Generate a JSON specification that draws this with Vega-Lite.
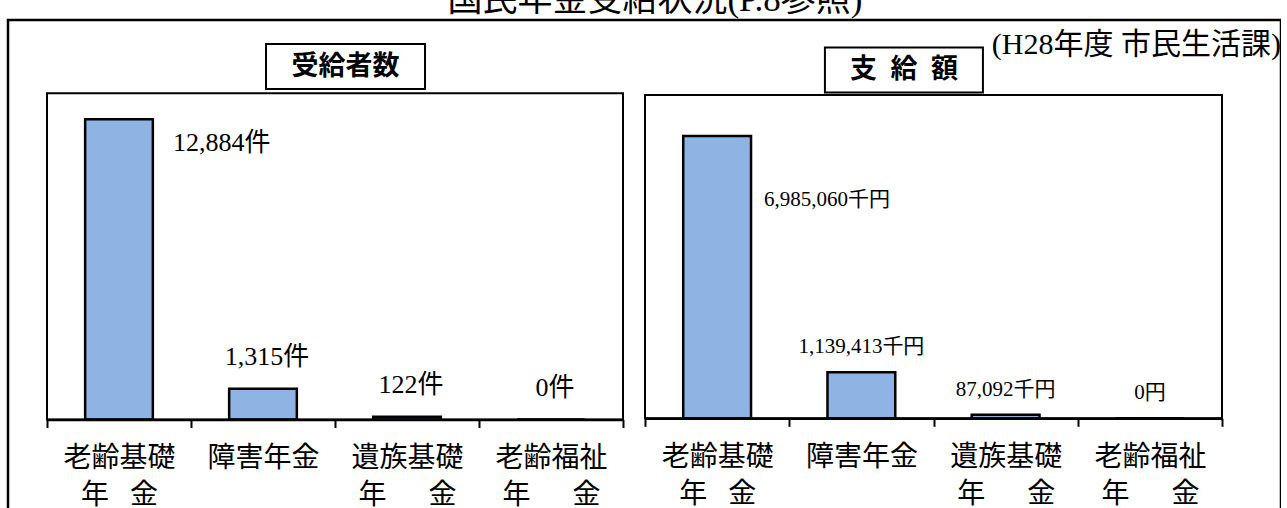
{
  "$schema": "https://vega.github.io/schema/vega-lite/v6.json",
  "autosize": {"type": "none"},
  "padding": {"left": 8, "top": 20, "right": 0, "bottom": 0},
  "width": 1273,
  "height": 520,
  "background": "white",
  "config": {
    "view": {"stroke": "black", "strokeWidth": 2.5},
    "font": "Liberation Serif, Noto Sans CJK JP"
  },
  "datasets": {
    "recipients": [
      {"cat": "老齢基礎年金", "value": 12884, "label": "12,884件"},
      {"cat": "障害年金", "value": 1315, "label": "1,315件"},
      {"cat": "遺族基礎年金", "value": 122, "label": "122件"},
      {"cat": "老齢福祉年金", "value": 0, "label": "0件"}
    ],
    "payments": [
      {"cat": "老齢基礎年金", "value": 6985060, "label": "6,985,060千円"},
      {"cat": "障害年金", "value": 1139413, "label": "1,139,413千円"},
      {"cat": "遺族基礎年金", "value": 87092, "label": "87,092千円"},
      {"cat": "老齢福祉年金", "value": 0, "label": "0円"}
    ]
  },
  "layer": [
    {
      "data": {"name": "recipients"},
      "layer": [
        {
          "mark": {"type": "bar", "width": {"band": 0.47}, "fill": "#8DB4E3", "stroke": "black", "strokeWidth": 2.5},
          "encoding": {
            "x": {
              "field": "cat", "type": "nominal", "sort": null,
              "scale": {"domain": ["老齢基礎年金", "障害年金", "遺族基礎年金", "老齢福祉年金"], "range": [39, 615], "padding": 0},
              "axis": {
                "orient": "bottom", "offset": -120.5, "title": null,
                "domainColor": "black", "domainWidth": 2.5,
                "tickColor": "black", "tickWidth": 2, "tickSize": 8, "tickBand": "extent",
                "labelAngle": 0, "labelFontSize": 28, "labelFont": "Liberation Serif, Noto Sans CJK JP",
                "labelColor": "black", "labelLineHeight": 37, "labelPadding": 17,
                "labelBaseline": "top", "labelLimit": 0, "labelOverlap": false,
                "labelExpr": "datum.value == '老齢基礎年金' ? ['老齢基礎', '年\u2002 金'] : datum.value == '障害年金' ? '障害年金' : datum.value == '遺族基礎年金' ? ['遺族基礎', '年　\u2002金'] : datum.value == '老齢福祉年金' ? ['老齢福祉', '年　\u2002金'] : ''"
              }
            },
            "y": {
              "field": "value", "type": "quantitative",
              "scale": {"domain": [0, 14000], "range": [399.5, 73.3], "nice": false, "zero": true},
              "axis": null
            }
          }
        },
        {
          "transform": [{"filter": "datum.cat == '老齢基礎年金'"}],
          "mark": {"type": "rect", "fill": "transparent", "stroke": "black", "strokeWidth": 2},
          "encoding": {
            "x": {"datum": "老齢基礎年金", "type": "nominal", "bandPosition": 0},
            "x2": {"datum": "老齢福祉年金", "bandPosition": 1},
            "y": {"datum": 0, "type": "quantitative"},
            "y2": {"datum": 14000}
          }
        },
        {
          "transform": [{"filter": "datum.cat == '老齢基礎年金'"}],
          "mark": {"type": "text", "align": "left", "baseline": "middle", "dy": 23.4, "fontSize": 26, "font": "Liberation Serif, Noto Sans CJK JP", "color": "black"},
          "encoding": {
            "x": {"field": "cat", "type": "nominal", "bandPosition": 0.875},
            "y": {"field": "value", "type": "quantitative"},
            "text": {"field": "label"}
          }
        },
        {
          "transform": [{"filter": "datum.cat != '老齢基礎年金'"}],
          "mark": {"type": "text", "align": "center", "baseline": "middle", "dx": 4, "dy": -32, "fontSize": 26, "font": "Liberation Serif, Noto Sans CJK JP", "color": "black"},
          "encoding": {
            "x": {"field": "cat", "type": "nominal", "bandPosition": 0.5},
            "y": {"field": "value", "type": "quantitative"},
            "text": {"field": "label"}
          }
        },
        {
          "transform": [{"filter": "datum.cat == '老齢基礎年金'"}],
          "mark": {"type": "point", "shape": "M-1,-0.283H1V0.283H-1Z", "size": 25281, "filled": true, "fill": "white", "stroke": "black", "strokeWidth": 2, "opacity": 1},
          "encoding": {
            "x": {"datum": "遺族基礎年金", "type": "nominal", "bandPosition": 0.073},
            "y": {"datum": 15150, "type": "quantitative"}
          }
        },
        {
          "transform": [{"filter": "datum.cat == '老齢基礎年金'"}],
          "mark": {"type": "text", "align": "center", "baseline": "middle", "fontSize": 27, "fontWeight": "bold", "font": "Noto Sans CJK JP", "color": "black"},
          "encoding": {
            "x": {"datum": "遺族基礎年金", "type": "nominal", "bandPosition": 0.073},
            "y": {"datum": 15150, "type": "quantitative"},
            "text": {"value": "受給者数"}
          }
        }
      ]
    },
    {
      "data": {"name": "payments"},
      "layer": [
        {
          "mark": {"type": "bar", "width": {"band": 0.47}, "fill": "#8DB4E3", "stroke": "black", "strokeWidth": 2.5},
          "encoding": {
            "x": {
              "field": "cat", "type": "nominal", "sort": null,
              "scale": {"domain": ["老齢基礎年金", "障害年金", "遺族基礎年金", "老齢福祉年金"], "range": [637, 1214], "padding": 0},
              "axis": {
                "orient": "bottom", "offset": -121.7, "title": null,
                "domainColor": "black", "domainWidth": 2.5,
                "tickColor": "black", "tickWidth": 2, "tickSize": 8, "tickBand": "extent",
                "labelAngle": 0, "labelFontSize": 28, "labelFont": "Liberation Serif, Noto Sans CJK JP",
                "labelColor": "black", "labelLineHeight": 37, "labelPadding": 17,
                "labelBaseline": "top", "labelLimit": 0, "labelOverlap": false,
                "labelExpr": "datum.value == '老齢基礎年金' ? ['老齢基礎', '年\u2002 金'] : datum.value == '障害年金' ? '障害年金' : datum.value == '遺族基礎年金' ? ['遺族基礎', '年　\u2002金'] : datum.value == '老齢福祉年金' ? ['老齢福祉', '年　\u2002金'] : ''"
              }
            },
            "y": {
              "field": "value", "type": "quantitative",
              "scale": {"domain": [0, 8000000], "range": [398.3, 75], "nice": false, "zero": true},
              "axis": null
            }
          }
        },
        {
          "transform": [{"filter": "datum.cat == '老齢基礎年金'"}],
          "mark": {"type": "rect", "fill": "transparent", "stroke": "black", "strokeWidth": 2},
          "encoding": {
            "x": {"datum": "老齢基礎年金", "type": "nominal", "bandPosition": 0},
            "x2": {"datum": "老齢福祉年金", "bandPosition": 1},
            "y": {"datum": 0, "type": "quantitative"},
            "y2": {"datum": 8000000}
          }
        },
        {
          "transform": [{"filter": "datum.cat == '老齢基礎年金'"}],
          "mark": {"type": "text", "align": "left", "baseline": "middle", "dy": 64.4, "fontSize": 21, "font": "Liberation Serif, Noto Sans CJK JP", "color": "black"},
          "encoding": {
            "x": {"field": "cat", "type": "nominal", "bandPosition": 0.825},
            "y": {"field": "value", "type": "quantitative"},
            "text": {"field": "label"}
          }
        },
        {
          "transform": [{"filter": "datum.cat != '老齢基礎年金'"}],
          "mark": {"type": "text", "align": "center", "baseline": "middle", "dy": -25, "fontSize": 21, "font": "Liberation Serif, Noto Sans CJK JP", "color": "black"},
          "encoding": {
            "x": {"field": "cat", "type": "nominal", "bandPosition": 0.5},
            "y": {"field": "value", "type": "quantitative"},
            "text": {"field": "label"}
          }
        },
        {
          "transform": [{"filter": "datum.cat == '老齢基礎年金'"}],
          "mark": {"type": "point", "shape": "M-1,-0.285H1V0.285H-1Z", "size": 24964, "filled": true, "fill": "white", "stroke": "black", "strokeWidth": 2, "opacity": 1},
          "encoding": {
            "x": {"datum": "障害年金", "type": "nominal", "bandPosition": 0.795},
            "y": {"datum": 8618000, "type": "quantitative"}
          }
        },
        {
          "transform": [{"filter": "datum.cat == '老齢基礎年金'"}],
          "mark": {"type": "text", "align": "center", "baseline": "middle", "fontSize": 27, "fontWeight": "bold", "font": "Noto Sans CJK JP", "color": "black"},
          "encoding": {
            "x": {"datum": "障害年金", "type": "nominal", "bandPosition": 0.795},
            "y": {"datum": 8618000, "type": "quantitative"},
            "text": {"value": "支\u2002給\u2002額"}
          }
        },
        {
          "transform": [{"filter": "datum.cat == '老齢基礎年金'"}],
          "mark": {"type": "text", "align": "right", "baseline": "middle", "fontSize": 30, "font": "Liberation Serif, Noto Sans CJK JP", "color": "black"},
          "encoding": {
            "x": {"datum": "老齢福祉年金", "type": "nominal", "bandPosition": 1.409},
            "y": {"datum": 9237000, "type": "quantitative"},
            "text": {"value": "(H28年度 市民生活課)"}
          }
        },
        {
          "transform": [{"filter": "datum.cat == '老齢基礎年金'"}],
          "mark": {"type": "text", "align": "center", "baseline": "middle", "fontSize": 35, "font": "Liberation Serif, Noto Sans CJK JP", "color": "black"},
          "encoding": {
            "x": {"datum": "老齢基礎年金", "type": "nominal", "bandPosition": 0.069},
            "y": {"datum": 10350000, "type": "quantitative"},
            "text": {"value": "国民年金受給状況(P.8参照)"}
          }
        }
      ]
    }
  ],
  "resolve": {
    "scale": {"x": "independent", "y": "independent"},
    "axis": {"x": "independent", "y": "independent"}
  }
}
